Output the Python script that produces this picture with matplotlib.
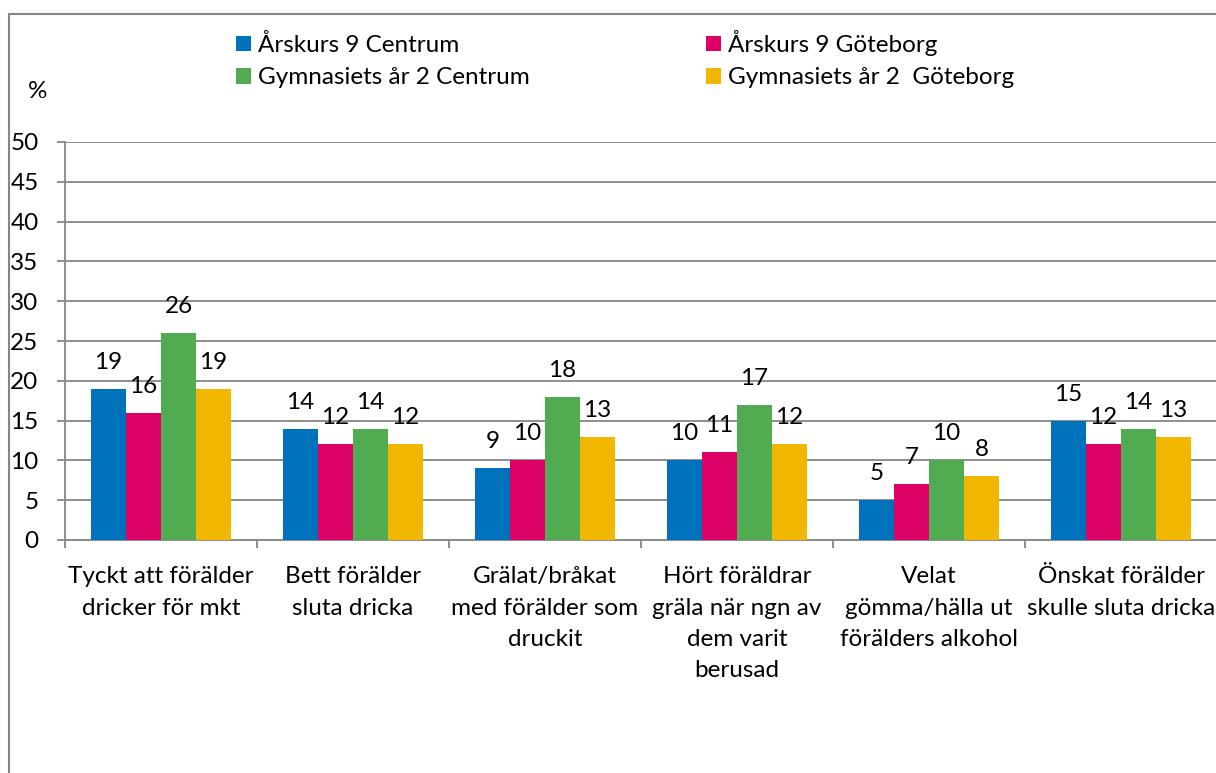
import numpy as np
import matplotlib.pyplot as plt
from matplotlib.patches import Rectangle

plt.rcParams['font.family'] = ['Lato', 'DejaVu Sans']

categories = ["Tyckt att förälder\ndricker för mkt",
              "Bett förälder\nsluta dricka",
              "Grälat/bråkat\nmed förälder som\ndruckit",
              "Hört föräldrar\ngräla när ngn av\ndem varit\nberusad",
              "Velat\ngömma/hälla ut\nförälders alkohol",
              "Önskat förälder\nskulle sluta dricka"]
series_names = ["Årskurs 9 Centrum", "Årskurs 9 Göteborg",
                "Gymnasiets år 2 Centrum", "Gymnasiets år 2  Göteborg"]
ak9_centrum = [19, 14, 9, 10, 5, 15]
ak9_goteborg = [16, 12, 10, 11, 7, 12]
gy2_centrum = [26, 14, 18, 17, 10, 14]
gy2_goteborg = [19, 12, 13, 12, 8, 13]
colors = ["#0071BB", "#DC0067", "#51AB51", "#F1B600"]

W, H = 1216, 773
fig = plt.figure(figsize=(W / 100, H / 100), dpi=100)
ax = fig.add_axes([65 / W, (H - 540) / H, 1152 / W, 398 / H])

gray = "#868686"
fs = 17.5
x = np.arange(len(categories)) + 0.5
bw = 35 / 192
bars = []
for i, vals in enumerate([ak9_centrum, ak9_goteborg, gy2_centrum, gy2_goteborg]):
    pos = x + (i - 1.5) * bw
    b = ax.bar(pos, vals, width=bw, color=colors[i], label=series_names[i], zorder=3)
    bars.append(b)
    for px, v in zip(pos, vals):
        ax.annotate(str(v), (px, v), xytext=(0, 14.4), textcoords='offset points',
                    ha='center', va='baseline', fontsize=fs, color='black')

ax.set_xlim(0, 6)
ax.set_ylim(0, 50)
ax.set_yticks(np.arange(0, 51, 5))
ax.yaxis.grid(True, color=gray, linewidth=1.3, zorder=0)
ax.set_axisbelow(True)
ax.tick_params(axis='y', length=6, width=1.3, color=gray, pad=13, labelsize=fs)

ax.set_xticks(x)
ax.set_xticklabels(categories, fontsize=fs, linespacing=1.6)
ax.set_xticks(np.arange(0, 7), minor=True)
ax.tick_params(axis='x', which='major', length=0, pad=19)
ax.tick_params(axis='x', which='minor', length=6, width=1.3, color=gray)

for s in ['top', 'right']:
    ax.spines[s].set_visible(False)
for s in ['left', 'bottom']:
    ax.spines[s].set_color(gray)
    ax.spines[s].set_linewidth(1.3)

# legend in two columns
handles = [b[0] for b in bars]
leg_kw = dict(loc='upper left', frameon=False, fontsize=fs, borderpad=0, borderaxespad=0,
              handlelength=0.62, handleheight=0.62, handletextpad=0.3, labelspacing=0.46)
leg1 = fig.legend([handles[0], handles[2]], [series_names[0], series_names[2]],
                  bbox_to_anchor=(236 / W, 1 - 34 / H), **leg_kw)
leg2 = fig.legend([handles[1], handles[3]], [series_names[1], series_names[3]],
                  bbox_to_anchor=(706 / W, 1 - 30 / H), **leg_kw)

fig.text(38 / W, 1 - 92 / H, "%", ha='center', va='center', fontsize=fs)

fig.add_artist(Rectangle((9 / W, -0.1), 1.2, 1.1 - 14 / H, transform=fig.transFigure,
                         fill=False, edgecolor=gray, linewidth=1.5))

fig.savefig("out.png", dpi=100)
